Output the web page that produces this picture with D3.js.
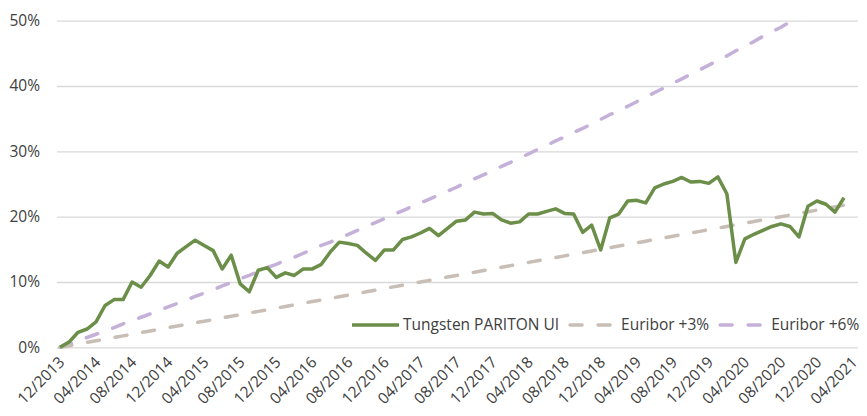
<!DOCTYPE html>
<html>
<head>
<meta charset="utf-8">
<script src="https://cdn.jsdelivr.net/npm/d3@7"></script>
<style>
  body { margin: 0; background: #fff; }
  svg { display: block; font-family: "Open Sans", sans-serif; }
</style>
</head>
<body>
<div id="chart"></div>
<script>
// monthly data, 12/2013 .. 03/2021 (88 points), cumulative return in %
var tungsten = [
    0, 0.8, 2.3, 2.8, 3.9, 6.4, 7.3, 7.3, 10.0, 9.2, 11.0, 13.2, 12.3, 14.4, 15.4, 16.4,
    15.6, 14.8, 12.0, 14.1, 9.7, 8.5, 11.8, 12.2, 10.7, 11.4, 11.0, 12.0, 12.0, 12.7, 14.6, 16.1,
    15.9, 15.6, 14.4, 13.3, 14.9, 14.9, 16.5, 16.9, 17.5, 18.2, 17.1, 18.2, 19.3, 19.5, 20.7,
    20.4, 20.5, 19.5, 19.0, 19.2, 20.4, 20.4, 20.8, 21.2, 20.5, 20.4, 17.6, 18.7, 14.9, 19.8, 20.4,
    22.4, 22.5, 22.1, 24.4, 25.0, 25.4, 26.0, 25.3, 25.4, 25.1, 26.1, 23.5, 13.0,
    16.6, 17.3, 17.9, 18.5, 18.9, 18.5, 16.9, 21.6, 22.4, 21.9, 20.7, 22.9
]
var euribor3 = [
    0, 0.25, 0.5, 0.75, 1.0, 1.25, 1.5, 1.75, 2.0, 2.25, 2.5, 2.75, 3.0, 3.25, 3.5, 3.75,
    4.0, 4.25, 4.5, 4.75, 5.0, 5.25, 5.5, 5.75, 6.0, 6.25, 6.5, 6.75, 7.0, 7.25, 7.5, 7.75,
    8.0, 8.25, 8.5, 8.75, 9.0, 9.25, 9.5, 9.75, 10.0, 10.25, 10.5, 10.75, 11.0, 11.25, 11.5, 11.75,
    12.0, 12.25, 12.5, 12.75, 13.0, 13.25, 13.5, 13.75, 14.0, 14.25, 14.5, 14.75, 15.0, 15.25, 15.5, 15.75,
    16.0, 16.25, 16.5, 16.75, 17.0, 17.25, 17.5, 17.75, 18.0, 18.25, 18.5, 18.75, 19.0, 19.25, 19.5, 19.75,
    20.0, 20.25, 20.5, 20.75, 21.0, 21.25, 21.5, 21.75
]
var euribor6 = [
    0, 0.5, 1.0, 1.5, 2.0, 2.5, 3.0, 3.6, 4.1, 4.6, 5.1, 5.6, 6.2, 6.7, 7.2, 7.8,
    8.3, 8.8, 9.4, 9.9, 10.5, 11.0, 11.6, 12.2, 12.7, 13.3, 13.8, 14.4, 15.0, 15.6, 16.1, 16.7,
    17.3, 17.9, 18.5, 19.1, 19.7, 20.3, 20.9, 21.5, 22.1, 22.7, 23.3, 23.9, 24.5, 25.2, 25.8, 26.4,
    27.0, 27.7, 28.3, 29.0, 29.6, 30.3, 30.9, 31.6, 32.2, 32.9, 33.5, 34.2, 34.9, 35.6, 36.2, 36.9,
    37.6, 38.3, 39.0, 39.7, 40.4, 41.1, 41.8, 42.5, 43.2, 43.9, 44.6, 45.4, 46.1, 46.8, 47.6, 48.3,
    49.0, 49.8, 50.5, 51.3, 52.0, 52.8, 53.6, 54.3
]
var xLabels = ['12/2013', '04/2014', '08/2014', '12/2014', '04/2015', '08/2015', '12/2015', '04/2016',
    '08/2016', '12/2016', '04/2017', '08/2017', '12/2017', '04/2018', '08/2018', '12/2018',
    '04/2019', '08/2019', '12/2019', '04/2020', '08/2020', '12/2020', '04/2021']
var yTicks = [0, 10, 20, 30, 40, 50]
var seriesNames = ['Tungsten PARITON UI', 'Euribor +3%', 'Euribor +6%']

var series = [
    { name: seriesNames[0], values: tungsten, color: '#6b8e48', dash: null },
    { name: seriesNames[1], values: euribor3, color: '#c8beb6', dash: '12,16' },
    { name: seriesNames[2], values: euribor6, color: '#c5b0d9', dash: '12,16' }
]

var width = 867,
    height = 416,
    fontSize = '15.5px'

var svg = d3.select('#chart').append('svg')
    .attr('width', width)
    .attr('height', height)

var plot = { left: 57, right: 858, top: 20.7, bottom: 347.3 }

var x = d3.scaleLinear()
    .domain([0, (xLabels.length - 1) * 4])
    .range([60, 853])

var y = d3.scaleLinear()
    .domain([0, 50])
    .range([plot.bottom, plot.top])

// y axis + gridlines
var yAxis = d3.axisLeft(y)
    .tickValues(yTicks)
    .tickFormat(d => d + '%')
    .tickSize(-(plot.right - plot.left))
    .tickPadding(17)

svg.append('g')
    .attr('transform', `translate(${plot.left}, 0)`)
    .call(yAxis)
    .call(g => g.select('.domain').remove())
    .call(g => g.selectAll('.tick line').attr('stroke', '#d9d9d9').attr('stroke-width', 1.3))
    .call(g => g.selectAll('.tick text')
        .attr('fill', '#404040')
        .style('font-size', fontSize)
        .style('font-family', '"Open Sans", sans-serif'))

// x axis labels
var xAxis = d3.axisBottom(x)
    .tickValues(xLabels.map((d, i) => i * 4))
    .tickFormat((d, i) => xLabels[i])
    .tickSize(0)

svg.append('g')
    .attr('transform', `translate(0, ${plot.bottom})`)
    .call(xAxis)
    .call(g => g.select('.domain').remove())
    .call(g => g.selectAll('.tick text')
        .attr('fill', '#404040')
        .style('font-size', fontSize)
        .style('font-family', '"Open Sans", sans-serif')
        .attr('text-anchor', 'end')
        .attr('x', 0)
        .attr('y', 0)
        .attr('dy', 0)
        .attr('transform', 'translate(5, 16) rotate(-45)'))

svg.append('clipPath').attr('id', 'clip')
    .append('rect')
    .attr('x', plot.left)
    .attr('y', plot.top - 2)
    .attr('width', plot.right - plot.left)
    .attr('height', plot.bottom - plot.top + 4)

var line = d3.line()
    .x((d, i) => x(i))
    .y(d => y(d))

// draw dashed lines first, green on top
var order = [2, 1, 0]
svg.append('g')
    .attr('clip-path', 'url(#clip)')
    .selectAll('path')
    .data(order.map(i => series[i]))
    .enter().append('path')
    .attr('d', d => line(d.values))
    .attr('fill', 'none')
    .attr('stroke', d => d.color)
    .attr('stroke-width', 3.5)
    .attr('stroke-dasharray', d => d.dash)
    .attr('stroke-linecap', d => d.dash ? 'round' : 'butt')
    .attr('stroke-linejoin', 'round')

// legend
var legend = svg.append('g').attr('transform', 'translate(0, 325)')
var lx = 352
series.forEach(function (s) {
    legend.append('line')
        .attr('x1', lx).attr('x2', lx + 47)
        .attr('y1', 0).attr('y2', 0)
        .attr('stroke', s.color)
        .attr('stroke-width', 3.5)
        .attr('stroke-dasharray', s.dash)
        .attr('stroke-linecap', s.dash ? 'round' : 'butt')
    var t = legend.append('text')
        .attr('x', lx + 51)
        .attr('y', 0)
        .attr('dy', '0.35em')
        .attr('fill', '#404040')
        .style('font-size', fontSize)
        .text(s.name)
    lx += 51 + t.node().getComputedTextLength() + 11
})
</script>
</body>
</html>
